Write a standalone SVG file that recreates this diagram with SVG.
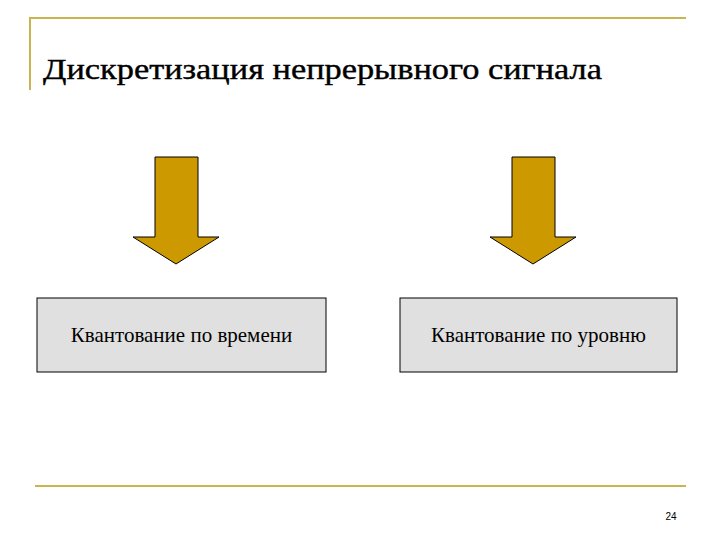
<svg xmlns="http://www.w3.org/2000/svg" width="720" height="540" viewBox="0 0 720 540">
<style>
.rule{stroke:#c8b450;stroke-width:2;fill:none}
.arrow{fill:#cc9900;stroke:#000;stroke-width:1}
.box{fill:#e0e0e0;stroke:#000;stroke-width:1}
.serif{font-family:"Times New Roman","Liberation Serif","DejaVu Serif",serif;fill:#000}
.lbl{font-size:21px;text-anchor:middle}
</style>
<rect width="720" height="540" fill="#fff"/>
<polyline class="rule" points="30,90 30,18 686,18"/>
<line class="rule" x1="35" y1="486" x2="686" y2="486"/>
<text class="serif" x="43" y="79" font-size="29" textLength="559" lengthAdjust="spacingAndGlyphs" stroke="#000" stroke-width="0.4">Дискретизация непрерывного сигнала</text>
<g id="connectors">
<polygon class="arrow" points="155,157 198,157 198,237 219,237 176,264 133,237 155,237"/>
<polygon class="arrow" points="512,157 555,157 555,237 576,237 533,264 490,237 512,237"/>
</g>
<g id="node1"><rect class="box" x="37" y="298" width="289" height="74"/><text class="serif lbl" x="181.5" y="342">Квантование по времени</text></g>
<g id="node2"><rect class="box" x="400" y="298" width="277" height="74"/><text class="serif lbl" x="538.5" y="342">Квантование по уровню</text></g>
<text x="671" y="520" font-family="'Liberation Sans',sans-serif" font-size="10" text-anchor="middle">24</text>
</svg>
